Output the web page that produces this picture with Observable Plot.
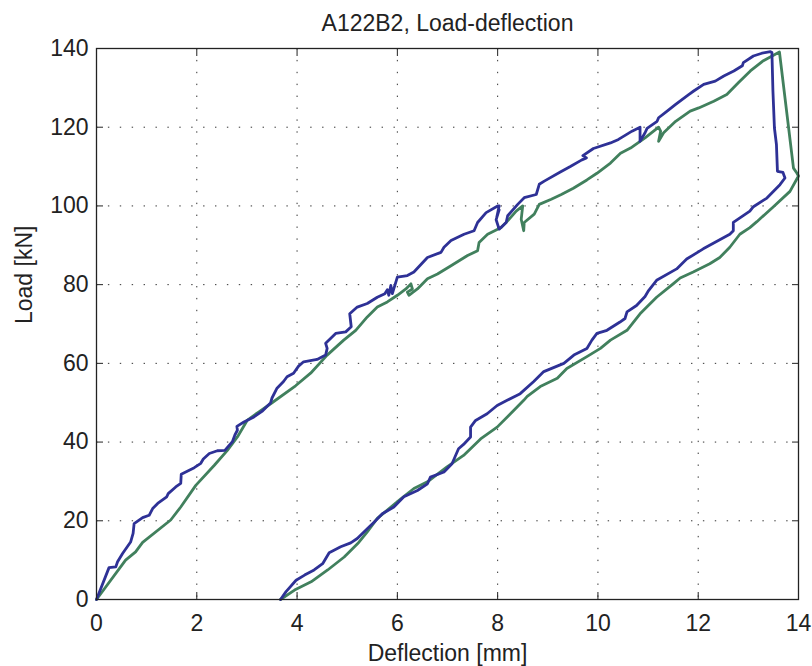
<!DOCTYPE html>
<html>
<head>
<meta charset="utf-8">
<script src="https://cdn.jsdelivr.net/npm/d3@7"></script>
<script src="https://cdn.jsdelivr.net/npm/@observablehq/plot@0.6"></script>
<style>
  html, body { margin: 0; padding: 0; background: #fff; }
</style>
</head>
<body>
<div id="chart"></div>
<script>
const title = "A122B2, Load-deflection";
const xLabel = "Deflection [mm]";
const yLabel = "Load [kN]";
const xTicks = [0, 2, 4, 6, 8, 10, 12, 14];
const yTicks = [0, 20, 40, 60, 80, 100, 120, 140];

// Blue series: loading, peak, drop, then unloading back to zero
const blueX = [0,0.25,0.385,0.42,0.52,0.68,0.73,0.75,0.92,1.05,1.12,1.22,1.40,1.43,1.58,1.68,1.69,1.95,2.08,2.13,2.25,2.41,2.56,2.71,2.76,2.81,2.80,2.94,3.14,3.30,3.47,3.5,3.6,3.73,3.8,3.93,4.03,4.13,4.4,4.57,4.6,4.57,4.77,4.97,5.08,5.05,5.2,5.4,5.6,5.75,5.8,5.83,5.87,5.9,6.0,6.2,6.33,6.6,6.87,6.93,7.07,7.33,7.53,7.6,7.77,8.0,8.03,7.98,8.03,7.97,8.03,8.17,8.2,8.4,8.53,8.77,8.83,8.93,9.25,9.45,9.68,9.77,9.7,9.91,10.25,10.41,10.55,10.68,10.84,10.84,10.94,10.98,11.18,11.21,11.38,11.55,11.81,11.91,12.11,12.34,12.51,12.71,12.88,12.9,13.1,13.27,13.44,13.47,13.49,13.52,13.56,13.58,13.69,13.73,13.63,13.37,13.1,13.03,12.7,12.7,12.63,12.1,11.77,11.57,11.17,11.01,10.94,10.77,10.58,10.54,10.44,10.18,9.98,9.88,9.78,9.52,9.32,8.92,8.72,8.45,8.19,7.99,7.79,7.56,7.46,7.46,7.32,7.22,7.09,6.93,6.66,6.6,6.40,6.13,5.93,5.70,5.54,5.4,5.2,5.07,4.87,4.64,4.51,4.34,4.15,3.98,3.78,3.67];
const blueY = [0,8.1,8.3,9.6,11.7,14.6,16.8,19.3,20.8,21.4,23.1,24.4,26.1,26.9,28.6,29.5,31.8,33.5,34.6,35.7,37.1,37.8,37.9,40.1,41.8,43.0,44.0,45.1,46.4,47.8,49.9,51.2,53.7,55.4,56.6,57.5,59.3,60.4,61.0,62.1,63.8,65.1,67.6,68.0,69.3,72.6,74.3,75.2,76.8,77.7,78.7,77.3,79.8,77.7,81.9,82.3,83.2,86.9,88.2,89.5,91.2,92.8,93.7,95.8,98.3,100,100,97,99,96.5,94.1,95.8,97.5,100.4,102.1,102.9,105.5,106.3,108.6,110.0,111.7,112.2,112.8,114.6,116.0,116.9,118,119,120,116.4,118.6,119.7,121.5,122.4,124.1,125.8,128.3,129.2,130.9,131.7,133,134.3,135.6,136.4,138.1,138.8,139.2,139,129.2,119.8,115.6,108.8,108.5,107.1,105.4,102,99.8,98.7,95.8,93.7,92.8,89.1,86.5,84,81.1,78.5,77,74.7,73.1,71.4,70.5,68.4,67.6,65.9,63.8,62.1,60,57.9,55.4,52.3,50.6,49.3,47.2,45.5,43.8,41.3,39.4,38.3,34.5,32.4,31.1,29.4,27.7,26.1,23.5,21.8,19.7,18.0,15.5,14.4,13.4,11.9,9.1,7.5,6.2,4.9,2.0,0];

// Green series: loading, peak, drop, then unloading back to zero
const greenX = [0,0.58,0.78,0.92,1.48,1.68,1.98,2.35,2.61,2.81,3.01,3.24,3.48,3.97,4.27,4.6,4.93,5.17,5.4,5.6,5.8,6.0,6.17,6.27,6.3,6.2,6.23,6.4,6.6,6.8,7.07,7.4,7.6,7.63,7.8,8.07,8.2,8.37,8.5,8.47,8.52,8.53,8.73,8.83,9.07,9.27,9.51,9.78,9.98,10.25,10.45,10.65,10.94,11.11,11.21,11.25,11.21,11.31,11.55,11.84,12.01,12.31,12.57,12.8,13.04,13.3,13.62,13.9,13.97,14.0,13.83,13.5,13.17,13.03,12.83,12.63,12.43,12.23,11.9,11.64,11.5,11.17,10.84,10.58,10.25,10.05,9.78,9.38,9.19,8.85,8.59,8.52,8.32,7.99,7.66,7.32,6.99,6.6,6.33,6.07,5.8,5.6,5.4,5.21,4.94,4.61,4.28,3.95,3.67];
const greenY = [0,10.0,12.1,14.5,20.2,23.5,29.0,34.1,37.9,41.3,45.6,47.7,49.8,54.3,57.5,62.1,65.9,68.4,71.8,74.3,75.6,77.3,78.9,80.2,78.9,78.1,77.3,78.9,81.5,82.7,84.8,87.4,88.6,90.7,92.8,94.5,96.2,98.7,100,96.6,93.7,95.8,97.9,100.4,101.7,102.9,104.5,106.6,108.3,110.9,113.4,114.7,117.3,119,120,119,116.4,118.6,121.5,124.1,124.9,126.6,128.3,131.3,134.3,136.9,139.1,109.6,108.3,107.6,103.7,99.8,96,94.5,92.8,89.5,86.9,85.3,83.2,81.7,80.2,76.8,72.6,68.4,65.9,63.8,61.7,58.7,56.2,54.1,51.6,50.6,48.0,43.8,40.8,36.6,33.7,29.9,28.2,25.6,22.7,20.6,17.2,14.2,10.8,7.5,4.5,2.4,0];

const blue = blueX.map((x, i) => ({x, y: blueY[i]}));
const green = greenX.map((x, i) => ({x, y: greenY[i]}));

const ink = "#222";
const chart = Plot.plot({
  width: 812,
  height: 666,
  marginLeft: 96,
  marginRight: 14,
  marginTop: 48,
  marginBottom: 67,
  style: {fontFamily: "'Liberation Sans', Arial, Helvetica, sans-serif", fontSize: "23px", color: ink, background: "#fff"},
  x: {domain: [0, 14]},
  y: {domain: [0, 140]},
  marks: [
    Plot.gridX(xTicks, {stroke: "#333", strokeOpacity: 1, strokeWidth: 1, strokeDasharray: "1.4,10.5"}),
    Plot.gridY(yTicks, {stroke: "#333", strokeOpacity: 1, strokeWidth: 1, strokeDasharray: "1.4,10.5"}),
    Plot.line(green, {x: "x", y: "y", stroke: "#41805d", strokeWidth: 2.8, strokeLinejoin: "round"}),
    Plot.line(blue, {x: "x", y: "y", stroke: "#2e3196", strokeWidth: 2.8, strokeLinejoin: "round"}),
    Plot.frame({stroke: ink, strokeWidth: 1.3}),
    Plot.axisX(xTicks, {anchor: "bottom", tickSize: -7, tickPadding: 22, label: null, stroke: ink, fill: ink}),
    Plot.axisX(xTicks, {anchor: "top", tickSize: -7, tickFormat: () => "", label: null, stroke: ink}),
    Plot.axisY(yTicks, {anchor: "left", tickSize: -7, tickPadding: 15, label: null, stroke: ink, fill: ink}),
    Plot.axisY(yTicks, {anchor: "right", tickSize: -7, tickFormat: () => "", label: null, stroke: ink}),
    Plot.text([title], {frameAnchor: "top", dy: -18, lineAnchor: "bottom", text: d => d, fill: ink}),
    Plot.text([xLabel], {frameAnchor: "bottom", dy: 61, lineAnchor: "bottom", text: d => d, fill: ink}),
    Plot.text([yLabel], {frameAnchor: "left", dx: -65, rotate: -90, lineAnchor: "bottom", text: d => d, fill: ink})
  ]
});
document.getElementById("chart").appendChild(chart);
</script>
</body>
</html>
